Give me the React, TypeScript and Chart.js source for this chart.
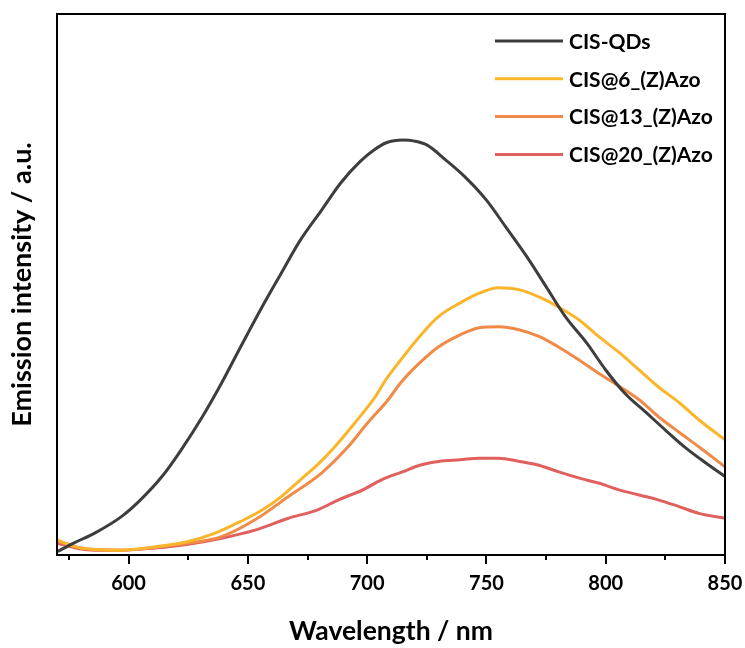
import React, { useEffect, useRef } from "react";
import { Chart, registerables } from "chart.js";

Chart.register(...registerables);

// ---------- data ----------
const seriesLabels = ["CIS-QDs", "CIS@6_(Z)Azo", "CIS@13_(Z)Azo", "CIS@20_(Z)Azo"];
const seriesColors = ["#3d3d3d", "#fbb52a", "#f08a48", "#e0605e"];

const qdWl = [570, 577, 586, 597, 605, 614, 622, 631, 639, 647, 656, 664, 672, 681, 689, 697, 703, 708, 715, 720, 725, 733, 741, 750, 758, 767, 775, 783, 792, 800, 808, 817, 825, 833, 842, 850];
const qdInt = [0.6, 2.2, 4.1, 7.1, 10.2, 14.5, 19.4, 25.6, 31.8, 38.5, 45.9, 52.1, 58.2, 63.8, 68.8, 72.7, 74.9, 76.2, 76.7, 76.5, 75.8, 73.0, 69.9, 65.6, 60.7, 55.1, 49.6, 44.1, 39.2, 34.2, 29.9, 26.3, 23.1, 20.0, 17.0, 14.5];

const az6Wl = [570, 578, 586, 597, 611, 625, 636, 647, 656, 664, 672, 679, 686, 695, 703, 708, 714, 722, 730, 739, 747, 755, 764, 772, 780, 789, 797, 806, 814, 822, 831, 839, 850];
const az6Int = [2.8, 1.5, 1.0, 0.9, 1.5, 2.5, 4.0, 6.2, 8.3, 10.8, 13.9, 16.6, 19.8, 24.5, 29.0, 32.5, 36.0, 40.4, 44.1, 46.6, 48.4, 49.4, 49.0, 47.7, 45.9, 43.4, 40.4, 37.3, 34.2, 31.1, 28.1, 25.0, 21.3];

const az13Wl = [570, 578, 586, 597, 611, 625, 639, 653, 667, 681, 692, 700, 709, 714, 722, 730, 739, 747, 755, 764, 772, 780, 789, 797, 806, 814, 822, 831, 839, 850];
const az13Int = [2.6, 1.5, 1.0, 0.9, 1.4, 2.2, 3.4, 6.5, 10.8, 15.2, 20.0, 24.3, 28.8, 31.8, 35.5, 38.5, 40.7, 42.0, 42.2, 41.6, 40.4, 38.5, 36.0, 33.6, 31.1, 28.7, 25.6, 22.6, 20.0, 16.3];

const az20Wl = [570, 578, 586, 597, 611, 625, 639, 653, 667, 679, 688, 698, 706, 715, 722, 730, 739, 747, 755, 764, 772, 780, 789, 797, 806, 814, 822, 831, 839, 850];
const az20Int = [2.2, 1.3, 0.9, 0.9, 1.3, 2.0, 3.1, 4.6, 6.8, 8.3, 10.2, 12.0, 13.9, 15.4, 16.6, 17.3, 17.6, 17.9, 17.9, 17.3, 16.6, 15.4, 14.2, 13.3, 12.0, 11.1, 10.2, 8.9, 7.7, 6.8];

const xMajorTicks = [600, 650, 700, 750, 800, 850];
const xMinorTicks = [575, 625, 675, 725, 775, 825];
const xTitle = "Wavelength / nm";
const yTitle = "Emission intensity / a.u.";

const FONT = "Lato, 'Open Sans', 'DejaVu Sans', sans-serif";

const toPoints = (xs: number[], ys: number[]) => xs.map((x, i) => ({ x, y: ys[i] }));

const frameAndTicks = {
  id: "frameAndTicks",
  afterDraw(chart: any) {
    const { ctx, chartArea } = chart;
    const { left, right, top, bottom } = chartArea;
    const xs = chart.scales.x;
    ctx.save();
    ctx.strokeStyle = "#000";
    ctx.lineWidth = 2;
    ctx.strokeRect(left, top, right - left, bottom - top);
    ctx.beginPath();
    for (const v of xMajorTicks) {
      const px = Math.round(xs.getPixelForValue(v));
      ctx.moveTo(px, bottom);
      ctx.lineTo(px, bottom + 9);
    }
    for (const v of xMinorTicks) {
      const px = Math.round(xs.getPixelForValue(v));
      ctx.moveTo(px, bottom);
      ctx.lineTo(px, bottom + 5);
    }
    ctx.stroke();
    ctx.restore();
  },
};

const insideLegend = {
  id: "insideLegend",
  afterDatasetsDraw(chart: any) {
    const { ctx, chartArea } = chart;
    const x0 = chartArea.right - 230;
    const x1 = x0 + 68;
    ctx.save();
    ctx.font = `bold 21px ${FONT}`;
    ctx.textBaseline = "middle";
    ctx.textAlign = "left";
    chart.data.datasets.forEach((ds: any, i: number) => {
      const y = chartArea.top + 27 + i * 37.8;
      ctx.strokeStyle = ds.borderColor;
      ctx.lineWidth = 3;
      ctx.beginPath();
      ctx.moveTo(x0, y);
      ctx.lineTo(x1, y);
      ctx.stroke();
      ctx.fillStyle = "#000";
      ctx.fillText(ds.label, x1 + 6, y + 1);
    });
    ctx.restore();
  },
};

export default function App() {
  const ref = useRef<HTMLCanvasElement | null>(null);
  useEffect(() => {
    if (!ref.current) return;
    const series = [
      toPoints(qdWl, qdInt),
      toPoints(az6Wl, az6Int),
      toPoints(az13Wl, az13Int),
      toPoints(az20Wl, az20Int),
    ];
    const chart = new Chart(ref.current, {
      type: "line",
      data: {
        datasets: series.map((data, i) => ({
          label: seriesLabels[i],
          data,
          borderColor: seriesColors[i],
          backgroundColor: seriesColors[i],
          borderWidth: 3,
          pointRadius: 0,
          cubicInterpolationMode: "monotone",
          fill: false,
        })),
      },
      options: {
        animation: false,
        responsive: true,
        maintainAspectRatio: false,
        layout: { padding: { top: 14, right: 20, bottom: 0, left: 0 } },
        plugins: { legend: { display: false }, tooltip: { enabled: false } },
        scales: {
          x: {
            type: "linear",
            min: 570,
            max: 850,
            afterBuildTicks: (s: any) => {
              s.ticks = xMajorTicks.map((v) => ({ value: v }));
            },
            afterFit: (s: any) => {
              s.height = 93;
              s.paddingLeft = 0;
              s.paddingRight = 0;
            },
            grid: { display: false, drawTicks: false },
            border: { display: false },
            ticks: {
              padding: 17,
              color: "#000",
              font: { family: FONT, size: 20, weight: "bold" },
              maxRotation: 0,
              callback: (v: any) => String(v),
            },
            title: {
              display: true,
              text: xTitle,
              color: "#000",
              font: { family: FONT, size: 26.5, weight: "bold" },
              padding: { top: 0, bottom: 1 },
            },
          },
          y: {
            type: "linear",
            min: 0,
            max: 100,
            afterFit: (s: any) => {
              s.width = 57;
              s.paddingTop = 0;
              s.paddingBottom = 0;
            },
            grid: { display: false, drawTicks: false },
            border: { display: false },
            ticks: { display: false },
            title: {
              display: true,
              text: yTitle,
              color: "#000",
              font: { family: FONT, size: 27, weight: "bold" },
              padding: { top: 6, bottom: 0 },
            },
          },
        },
      },
      plugins: [frameAndTicks, insideLegend],
    });
    return () => chart.destroy();
  }, []);
  return (
    <div style={{ position: "fixed", left: 0, top: 0, width: 745, height: 648, background: "#fff" }}>
      <canvas ref={ref} />
    </div>
  );
}
